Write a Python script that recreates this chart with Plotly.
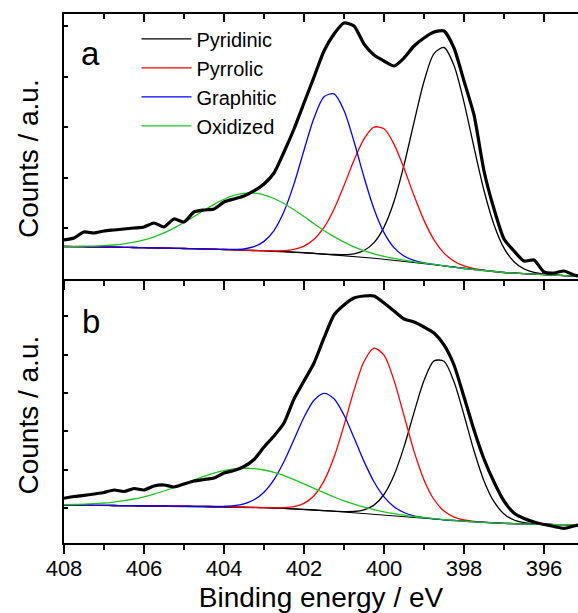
import plotly.graph_objects as go

# Binding energy grid (eV)
energy = [408.0, 407.75, 407.5, 407.25, 407.0, 406.75, 406.5, 406.25, 406.0, 405.75, 405.5, 405.25, 405.0,
          404.75, 404.5, 404.25, 404.0, 403.75, 403.5, 403.25, 403.0, 402.75, 402.5, 402.25, 402.0,
          401.75, 401.5, 401.25, 401.0, 400.75, 400.5, 400.25, 400.0, 399.75, 399.5, 399.25, 399.0,
          398.75, 398.5, 398.25, 398.0, 397.75, 397.5, 397.25, 397.0, 396.75, 396.5, 396.25, 396.0,
          395.75, 395.5, 395.25, 395.0]

# ---------------- panel a ----------------
background_a = [32.5, 32.4, 32.3, 32.1, 32.0, 31.8, 31.7, 31.5, 31.3, 31.1, 30.9, 30.7, 30.5,
                30.3, 30.0, 29.8, 29.5, 29.2, 28.9, 28.5, 28.2, 27.7, 27.3, 26.8, 26.3,
                25.6, 24.9, 24.2, 23.5, 22.6, 21.7, 20.7, 19.8, 18.7, 17.7, 16.6, 15.5,
                14.3, 13.0, 11.8, 10.5, 9.5, 8.5, 7.5, 6.5, 5.9, 5.4, 4.9, 4.3,
                3.9, 3.4, 3.0, 2.5]
pyridinic_a = [0, 0, 0, 0, 0, 0, 0, 0, 0, 0, 0, 0, 0,
               0, 0, 0, 0, 0, 0, 0, 0, 0, 0, 0, 0,
               0, 0, 0.3, 0.9, 2.6, 6.8, 15.6, 32.1, 58.8, 96.1, 140.0, 182.0,
               211.1, 218.5, 201.7, 166.2, 122.1, 80.0, 46.8, 24.4, 11.4, 4.7, 1.7, 0.6,
               0.2, 0, 0, 0]
pyrrolic_a = [0, 0, 0, 0, 0, 0, 0, 0, 0, 0, 0, 0, 0,
              0, 0, 0, 0, 0, 0, 0, 0.1, 0.4, 1.1, 2.8, 6.6,
              14.1, 26.7, 45.6, 69.9, 96.1, 118.5, 131.2, 130.4, 116.2, 93.0, 66.8, 43.1,
              24.9, 12.9, 6.0, 2.5, 0.9, 0.3, 0, 0, 0, 0, 0, 0,
              0, 0, 0, 0]
graphitic_a = [0, 0, 0, 0, 0, 0, 0, 0, 0, 0, 0, 0, 0,
               0, 0, 0, 0.1, 0.4, 1.3, 3.8, 9.4, 20.7, 40.1, 68.3, 102.5,
               135.3, 157.3, 160.9, 145.0, 114.9, 80.2, 49.3, 26.6, 12.7, 5.3, 2.0, 0.6,
               0.2, 0, 0, 0, 0, 0, 0, 0, 0, 0, 0, 0,
               0, 0, 0, 0]
oxidized_a = [0.1, 0.3, 0.5, 0.8, 1.3, 2.2, 3.5, 5.3, 7.8, 11.1, 15.2, 20.2, 26.0,
              32.2, 38.7, 44.8, 50.2, 54.3, 56.8, 57.4, 56.0, 52.8, 48.2, 42.4, 36.1,
              29.7, 23.6, 18.1, 13.4, 9.6, 6.7, 4.5, 2.9, 1.8, 1.1, 0.6, 0.4,
              0.2, 0.1, 0, 0, 0, 0, 0, 0, 0, 0, 0, 0,
              0, 0, 0, 0]
measured_a = [39, 41, 47, 46, 48, 49, 50, 51, 52, 56, 52, 60, 57,
              67, 69, 70, 77, 80, 83, 88, 95, 106, 127, 150, 176,
              202, 228, 245, 256, 253, 235, 224, 218, 213, 221, 233, 241,
              247, 248, 231, 198, 164, 108, 70, 40, 28, 18, 19, 7,
              6, 8, 4, 2]

# ---------------- panel b ----------------
background_b = [38.0, 37.9, 37.8, 37.7, 37.6, 37.5, 37.4, 37.3, 37.2, 37.1, 37.0, 36.9, 36.8,
                36.7, 36.6, 36.4, 36.2, 36.0, 35.8, 35.6, 35.3, 35.0, 34.6, 34.1, 33.6,
                33.0, 32.4, 31.7, 31.0, 30.3, 29.6, 28.8, 28.0, 27.2, 26.4, 25.6, 24.8,
                24.0, 23.2, 22.5, 21.8, 21.2, 20.6, 20.1, 19.7, 19.3, 19.0, 18.8, 18.6,
                18.4, 18.3, 18.2, 18.1]
pyridinic_b = [0, 0, 0, 0, 0, 0, 0, 0, 0, 0, 0, 0, 0,
               0, 0, 0, 0, 0, 0, 0, 0, 0, 0, 0, 0,
               0, 0, 0.1, 0.4, 1.2, 3.5, 9.1, 20.5, 40.5, 69.7, 104.8, 137.7,
               158.1, 158.5, 138.8, 106.2, 71.0, 41.5, 21.2, 9.4, 3.7, 1.3, 0.4, 0.1,
               0, 0, 0, 0]
pyrrolic_b = [0, 0, 0, 0, 0, 0, 0, 0, 0, 0, 0, 0, 0,
              0, 0, 0, 0, 0, 0, 0, 0.1, 0.2, 0.8, 2.3, 6.1,
              14.3, 29.7, 54.1, 86.6, 122.3, 151.9, 166.1, 159.8, 135.4, 101.0, 66.3, 38.3,
              19.5, 8.7, 3.4, 1.2, 0.4, 0.1, 0, 0, 0, 0, 0, 0,
              0, 0, 0, 0]
graphitic_b = [0, 0, 0, 0, 0, 0, 0, 0, 0, 0, 0, 0, 0,
               0, 0, 0.1, 0.5, 1.3, 3.3, 7.6, 15.5, 28.4, 46.9, 69.3, 92.1,
               109.7, 117.3, 112.6, 97.0, 74.9, 52.0, 32.4, 18.1, 9.1, 4.1, 1.6, 0.6,
               0.2, 0, 0, 0, 0, 0, 0, 0, 0, 0, 0, 0,
               0, 0, 0, 0]
oxidized_b = [0.4, 0.6, 1.0, 1.6, 2.4, 3.4, 4.9, 6.7, 9.0, 11.8, 15.0, 18.6, 22.4,
              26.3, 30.0, 33.4, 36.1, 38.0, 38.9, 38.8, 37.7, 35.6, 32.7, 29.3, 25.5,
              21.6, 17.9, 14.3, 11.2, 8.5, 6.3, 4.6, 3.2, 2.2, 1.5, 0.9, 0.6,
              0.4, 0.2, 0.1, 0, 0, 0, 0, 0, 0, 0, 0, 0,
              0, 0, 0, 0]
measured_b = [44.7, 46.5, 47.6, 49, 50.5, 53, 51.5, 54.5, 53, 57, 58, 56, 59,
              62, 63.5, 65, 70, 72.5, 76.5, 83.5, 96, 107, 120, 144, 162,
              180, 205, 228, 238, 245, 247, 247, 240, 232, 224, 221, 216,
              210, 198, 178, 146, 113, 84, 61, 42, 30, 24.5, 21, 18.5,
              16.5, 14.7, 17, 19]

component_names = ["Pyridinic", "Pyrrolic", "Graphitic", "Oxidized"]
component_colors = ["#000000", "#ff0000", "#0000ff", "#1ec31e"]
panel_labels = ["a", "b"]
x_tick_values = [408, 406, 404, 402, 400, 398, 396]
x_range = [408, 395.15]

FONT = "Liberation Sans, Arial, sans-serif"

fig = go.Figure()

panels = [
    ("x", "y", background_a, [pyridinic_a, pyrrolic_a, graphitic_a, oxidized_a], measured_a, True),
    ("x2", "y2", background_b, [pyridinic_b, pyrrolic_b, graphitic_b, oxidized_b], measured_b, False),
]

for xa, ya, bg, comps, meas, show in panels:
    fig.add_trace(go.Scatter(x=energy, y=bg, mode="lines", xaxis=xa, yaxis=ya,
                             line=dict(color="black", width=1.1), showlegend=False,
                             hoverinfo="skip"))
    for name, color, comp in zip(component_names, component_colors, comps):
        fig.add_trace(go.Scatter(x=energy, y=[b + c for b, c in zip(bg, comp)], mode="lines",
                                 xaxis=xa, yaxis=ya, name=name, showlegend=show,
                                 line=dict(color=color, width=1.3, shape="spline", smoothing=0.8)))
    fig.add_trace(go.Scatter(x=energy, y=meas, mode="lines", xaxis=xa, yaxis=ya,
                             line=dict(color="black", width=3.2, shape="spline", smoothing=0.6),
                             showlegend=False, name="Measured"))

axis_common = dict(showgrid=False, zeroline=False, showline=True, linecolor="black", linewidth=2,
                   tickcolor="black", tickwidth=2)

fig.update_layout(
    width=578, height=613,
    margin=dict(l=64, r=0, t=14, b=70),
    paper_bgcolor="white", plot_bgcolor="white",
    font=dict(family=FONT, color="black"),
    showlegend=True,
    legend=dict(x=0.141, y=0.99, xanchor="left", yanchor="top",
                font=dict(size=20, family=FONT), bgcolor="rgba(0,0,0,0)",
                tracegroupgap=0, itemwidth=50),
    xaxis=dict(domain=[0, 1], anchor="y", range=x_range, tickvals=x_tick_values,
               ticks="outside", ticklen=9, showticklabels=False,
               minor=dict(ticks="outside", ticklen=5, dtick=1, tick0=0, tickwidth=2, tickcolor="black"),
               **axis_common),
    xaxis3=dict(overlaying="x", anchor="y", side="top", range=x_range, tickvals=x_tick_values,
                ticks="inside", ticklen=8, showticklabels=False,
                minor=dict(ticks="inside", ticklen=5, dtick=1, tick0=0, tickwidth=2, tickcolor="black"),
                **axis_common),
    xaxis2=dict(domain=[0, 1], anchor="y2", range=x_range, tickvals=x_tick_values,
                ticktext=[str(v) for v in x_tick_values],
                ticks="outside", ticklen=9, tickfont=dict(size=22, family=FONT),
                ticklabelstandoff=-4,
                minor=dict(ticks="outside", ticklen=5, dtick=1, tick0=0, tickwidth=2, tickcolor="black"),
                title=dict(text="Binding energy / eV", font=dict(size=28, family=FONT), standoff=9),
                **axis_common),
    yaxis=dict(domain=[0.4991, 1], anchor="x", range=[0, 265], tick0=0, dtick=50.6,
               ticks="inside", ticklen=4, showticklabels=False, **axis_common),
    yaxis2=dict(domain=[0, 0.4972], anchor="x2", range=[0, 263], tick0=35, dtick=38.3,
                ticks="inside", ticklen=4, showticklabels=False, **axis_common),
)

# an invisible trace to activate the top overlay axis
fig.add_trace(go.Scatter(x=[energy[0]], y=[background_a[0]], xaxis="x3", yaxis="y", mode="lines",
                         showlegend=False, hoverinfo="skip", line=dict(width=0)))

fig.add_annotation(text="a", xref="paper", yref="paper", x=0.029, y=0.9253,
                   xanchor="left", yanchor="middle", showarrow=False, font=dict(size=33, family=FONT))
fig.add_annotation(text="b", xref="paper", yref="paper", x=0.031, y=0.4187,
                   xanchor="left", yanchor="middle", showarrow=False, font=dict(size=33, family=FONT))
for yc in [0.7268, 0.242]:
    fig.add_annotation(text="Counts / a.u.", xref="paper", yref="paper", x=-0.069, y=yc,
                       xanchor="center", yanchor="middle", textangle=-90, showarrow=False,
                       font=dict(size=28, family=FONT))

fig.write_html("out.html", config={"displayModeBar": False},
               post_script="document.body.style.margin='0';")
